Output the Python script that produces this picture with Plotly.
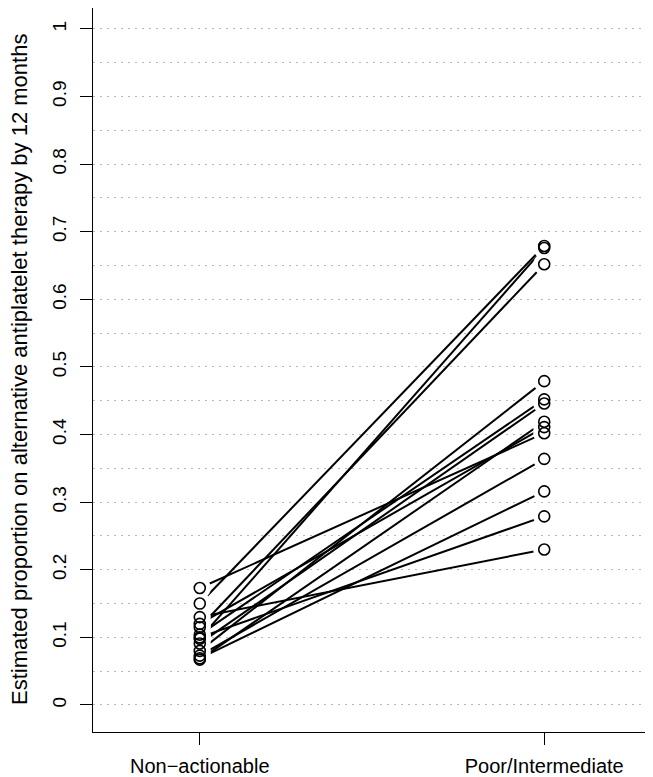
import plotly.graph_objects as go

categories = ["Non\u2212actionable", "Poor/Intermediate"]
cat_pos = [1, 2]
left_vals = [0.150, 0.098, 0.115, 0.080, 0.104, 0.091, 0.067, 0.120, 0.173, 0.073, 0.069, 0.100, 0.130]
right_vals = [0.679, 0.676, 0.652, 0.479, 0.452, 0.446, 0.419, 0.411, 0.402, 0.364, 0.316, 0.279, 0.230]
y_ticks = [0, 0.1, 0.2, 0.3, 0.4, 0.5, 0.6, 0.7, 0.8, 0.9, 1]
y_ticktext = ["0", "0.1", "0.2", "0.3", "0.4", "0.5", "0.6", "0.7", "0.8", "0.9", "1"]
y_title = "Estimated proportion on alternative antiplatelet therapy by 12 months"

FONT = "Liberation Sans, Arial, Helvetica, sans-serif"

lx, ly = [], []
for a, b in zip(left_vals, right_vals):
    lx += [cat_pos[0], cat_pos[1], None]
    ly += [a, b, None]

px = [cat_pos[0]] * len(left_vals) + [cat_pos[1]] * len(right_vals)
py = list(left_vals) + list(right_vals)

fig = go.Figure()
fig.add_trace(go.Scatter(x=lx, y=ly, mode="lines",
                         line=dict(color="black", width=2), hoverinfo="skip"))
# white halo to mimic R type="b" gaps
fig.add_trace(go.Scatter(x=px, y=py, mode="markers",
                         marker=dict(symbol="circle", size=22, color="white",
                                     line=dict(width=0)), hoverinfo="skip"))
fig.add_trace(go.Scatter(x=px, y=py, mode="markers",
                         marker=dict(symbol="circle-open", size=11, color="black",
                                     line=dict(width=1.6, color="black"))))

# page body adds an 8px offset; size and margins compensate for it
fig.update_layout(
    width=645, height=769,
    margin=dict(l=85, r=2, t=0, b=45, autoexpand=False),
    paper_bgcolor="white", plot_bgcolor="white",
    showlegend=False,
    font=dict(family=FONT, color="black", size=20),
    xaxis=dict(range=[0.69, 2.31], tickmode="array", tickvals=cat_pos,
               ticktext=categories, showgrid=False, zeroline=False,
               showline=True, mirror=True, linecolor="black", linewidth=1,
               ticks="outside", ticklen=12, tickwidth=1, tickcolor="black",
               tickfont=dict(size=20, family=FONT), ticklabelstandoff=4),
    yaxis=dict(range=[-0.04, 1.031], tickmode="array", tickvals=y_ticks,
               ticktext=y_ticktext, tickangle=-90,
               showgrid=True, gridcolor="#b8b8b8", gridwidth=1.3, griddash="2px,5px",
               minor=dict(dtick=0.05, tick0=0, showgrid=True, gridcolor="#b8b8b8",
                          gridwidth=1.3, griddash="2px,5px"),
               zeroline=False, showline=True, mirror=True, linecolor="black",
               linewidth=1, ticks="outside", ticklen=12, tickwidth=1,
               tickcolor="black", tickfont=dict(size=19, family=FONT),
               ticklabelstandoff=6),
    annotations=[dict(text=y_title, textangle=-90, xref="paper", yref="paper",
                      x=-74 / 558, y=0.5, xanchor="center", yanchor="middle",
                      showarrow=False, font=dict(size=22, family=FONT))],
)

fig.write_html("out.html")
